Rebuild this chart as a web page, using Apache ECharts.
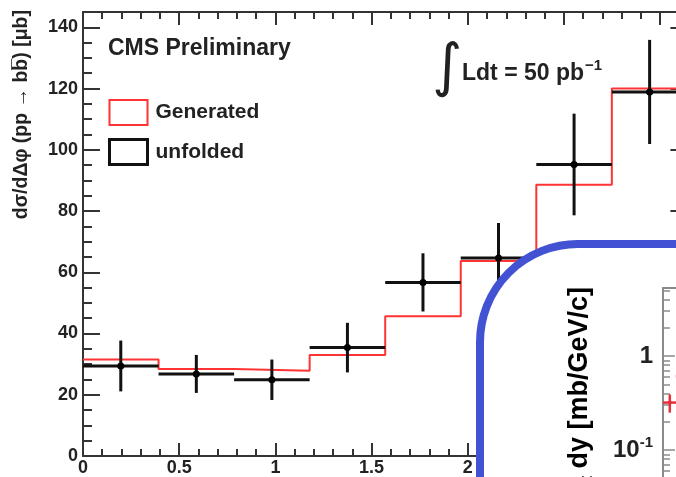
<!DOCTYPE html>
<html>
<head>
<meta charset="utf-8">
<script src="https://cdn.jsdelivr.net/npm/echarts@6/dist/echarts.min.js"></script>
<style>
  html, body { margin: 0; padding: 0; background: #fff; }
  #chart { width: 676px; height: 477px; }
</style>
</head>
<body>
<div id="chart"></div>
<script>
// Δφ binning: 8 equal bins from 0 to π
const binEdges = [0, 0.3927, 0.7854, 1.1781, 1.5708, 1.9635, 2.3562, 2.7489, 3.1416];
// generator-level cross section per bin [μb]
const generated = [31.5, 28.4, 27.8, 33.0, 45.6, 63.7, 88.6, 120.0];
// unfolded measurement and its uncertainty [μb]
const unfolded = [29.4, 26.8, 24.9, 35.4, 56.7, 64.7, 95.2, 118.9];
const unfoldedErr = [8.3, 6.2, 6.6, 8.1, 9.5, 11.4, 16.6, 17.0];

// axis ticks
const xMajorTicks = [0, 0.5, 1, 1.5, 2, 2.5, 3];
const yMajorTicks = [0, 20, 40, 60, 80, 100, 120, 140];
const xMinorTicks = [];
for (let k = 1; k <= 31; k++) if (k % 5 !== 0) xMinorTicks.push(k / 10);
const yMinorTicks = [];
for (let v = 5; v < 145; v += 5) if (v % 20 !== 0) yMinorTicks.push(v);

// inset: pT spectrum points (pT [GeV/c], half bin width, yield [mb/GeV/c], error)
const insetPt = [0.17, 0.49];
const insetHalfWidth = [0.17, 0.17];
const insetYield = [0.32, 0.61];
const insetYieldErr = [0.07, 0.1];
// inset y axis in decades (log10 of mb/GeV/c)
const insetDecadeTicks = [-3, -2, -1, 0];
const insetDecadeLabels = [-1, 0];
const insetMax = Math.log10(5.3);
const insetMinorTicks = [];
for (let n = -3; n <= 0; n++) {
  for (let k = 2; k <= 9; k++) {
    const v = Math.log10(k * Math.pow(10, n));
    if (v < insetMax) insetMinorTicks.push(v);
  }
}

const FONT = "'Liberation Sans', Arial, Helvetica, sans-serif";
const AXIS = '#333';
const INSET_AXIS = '#8a8a8a';
const RED = '#ff3333';
const BLUE = '#4351d3';

const genSteps = binEdges.map((e, i) => [e, generated[Math.min(i, generated.length - 1)]]);
const unfoldedData = unfolded.map((v, i) => [
  (binEdges[i] + binEdges[i + 1]) / 2, v, binEdges[i], binEdges[i + 1], unfoldedErr[i]
]);
const insetData = insetPt.map((p, i) => [p, insetHalfWidth[i], insetYield[i], insetYieldErr[i]]);

function tickAxis(gridIndex, position, min, max, values, length, showLine, extra) {
  return Object.assign({
    type: 'value', gridIndex, position, min, max,
    axisLine: { show: showLine, onZero: false, lineStyle: { color: AXIS, width: 2 } },
    axisTick: { show: true, inside: true, length, customValues: values, lineStyle: { color: AXIS, width: 2 } },
    axisLabel: { show: false },
    splitLine: { show: false },
    minorTick: { show: false }
  }, extra || {});
}

const labelStyle = { fontSize: 18, fontWeight: 'bold', color: '#222', fontFamily: FONT };

const xAxes = [
  tickAxis(0, 'bottom', 0, Math.PI, xMajorTicks, 13, true, {
    axisLabel: Object.assign({ show: true, customValues: xMajorTicks, margin: 3, formatter: v => String(v) }, labelStyle)
  }),
  tickAxis(0, 'bottom', 0, Math.PI, xMinorTicks, 7, false),
  tickAxis(0, 'top', 0, Math.PI, xMajorTicks, 13, true),
  tickAxis(0, 'top', 0, Math.PI, xMinorTicks, 7, false),
  // inset axes
  { type: 'value', gridIndex: 1, position: 'bottom', min: 0, max: 10, show: false,
    axisLine: { onZero: false } },
  { type: 'value', gridIndex: 1, position: 'top', min: 0, max: 10, z: 120,
    axisLine: { show: true, onZero: false, lineStyle: { color: INSET_AXIS, width: 2 } },
    axisTick: { show: false }, axisLabel: { show: false }, splitLine: { show: false } }
];

const yAxes = [
  tickAxis(0, 'left', 0, 145, yMajorTicks, 17, true, {
    axisLabel: Object.assign({ show: true, customValues: yMajorTicks, margin: 5 }, labelStyle)
  }),
  tickAxis(0, 'left', 0, 145, yMinorTicks, 9, false),
  tickAxis(0, 'right', 0, 145, yMajorTicks, 17, true),
  tickAxis(0, 'right', 0, 145, yMinorTicks, 9, false),
  // inset y axis, decades
  { type: 'value', gridIndex: 1, position: 'left', min: -3, max: insetMax, z: 120,
    axisLine: { show: true, onZero: false, lineStyle: { color: INSET_AXIS, width: 2 } },
    axisTick: { show: true, inside: true, length: 12, customValues: insetDecadeTicks, lineStyle: { color: INSET_AXIS, width: 1.5 } },
    axisLabel: {
      show: true, customValues: insetDecadeLabels, margin: 10,
      fontSize: 24, fontWeight: 'bold', color: '#222', fontFamily: FONT,
      formatter: v => (v === 0 ? '{b|1}' : '{b|10}{s|' + v + '}'),
      rich: {
        b: { fontSize: 24, fontWeight: 'bold', fontFamily: FONT, color: '#222' },
        s: { fontSize: 15, fontWeight: 'bold', fontFamily: FONT, color: '#222', padding: [0, 0, 14, 0] }
      }
    },
    splitLine: { show: false } },
  { type: 'value', gridIndex: 1, position: 'left', min: -3, max: insetMax, z: 120,
    axisLine: { show: false, onZero: false },
    axisTick: { show: true, inside: true, length: 7, customValues: insetMinorTicks, lineStyle: { color: INSET_AXIS, width: 1.5 } },
    axisLabel: { show: false }, splitLine: { show: false } }
];

function renderUnfolded(params, api) {
  const x = api.value(0), y = api.value(1), lo = api.value(2), hi = api.value(3), e = api.value(4);
  const c = api.coord([x, y]);
  const l = api.coord([lo, y]), r = api.coord([hi, y]);
  const t = api.coord([x, y + e]), b = api.coord([x, y - e]);
  const st = { stroke: '#111', lineWidth: 3 };
  return { type: 'group', children: [
    { type: 'line', shape: { x1: l[0], y1: l[1], x2: r[0], y2: r[1] }, style: st },
    { type: 'line', shape: { x1: t[0], y1: t[1], x2: b[0], y2: b[1] }, style: st },
    { type: 'circle', shape: { cx: c[0], cy: c[1], r: 3.5 }, style: { fill: '#000' } }
  ] };
}

function renderInset(params, api) {
  const x = api.value(0), hw = api.value(1), v = api.value(2), e = api.value(3);
  const ly = Math.log10(v);
  const c = api.coord([x, ly]);
  const l = api.coord([x - hw, ly]), r = api.coord([x + hw, ly]);
  const t = api.coord([x, Math.log10(v + e)]), b = api.coord([x, Math.log10(v - e)]);
  const st = { stroke: '#e8303a', lineWidth: 2.5 };
  return { type: 'group', children: [
    { type: 'line', shape: { x1: l[0], y1: l[1], x2: r[0], y2: r[1] }, style: st },
    { type: 'line', shape: { x1: t[0], y1: t[1], x2: b[0], y2: b[1] }, style: st },
    { type: 'circle', shape: { cx: c[0], cy: c[1], r: 2 }, style: { fill: '#e8303a' } }
  ] };
}

const chart = echarts.init(document.getElementById('chart'), null, { renderer: 'canvas' });
chart.setOption({
  animation: false,
  backgroundColor: '#fff',
  grid: [
    { left: 83, top: 12, width: 604.4, height: 444, containLabel: false, outerBoundsMode: 'none' },
    { left: 663, top: 288, width: 400, height: 350, containLabel: false, outerBoundsMode: 'none' }
  ],
  xAxis: xAxes,
  yAxis: yAxes,
  legend: {
    left: 108, top: 99, orient: 'vertical', padding: 0,
    itemWidth: 38, itemHeight: 25, itemGap: 12, selectedMode: false,
    textStyle: { fontSize: 21, fontWeight: 'bold', color: '#222', fontFamily: FONT, padding: [0, 0, 0, 3] },
    data: [
      { name: 'Generated', icon: 'rect', itemStyle: { color: '#fff', borderColor: RED, borderWidth: 2 } },
      { name: 'unfolded', icon: 'rect', itemStyle: { color: '#fff', borderColor: '#111', borderWidth: 3 } }
    ]
  },
  graphic: [
    { type: 'text', x: 22, y: 10, rotation: Math.PI / 2,
      style: { text: 'dσ/dΔφ (pp → bb\u0305) [μb]', font: 'bold 19.5px ' + FONT, fill: '#222',
        align: 'right', textAlign: 'right', verticalAlign: 'middle', textVerticalAlign: 'middle' } },
    { type: 'text', x: 108, y: 49,
      style: { text: 'CMS Preliminary', font: 'bold 23px ' + FONT, fill: '#222',
        align: 'left', textAlign: 'left', verticalAlign: 'middle', textVerticalAlign: 'middle' } },
    { type: 'text', x: 447, y: 70,
      style: { text: '∫', font: '58px DejaVu Sans', fill: '#222',
        align: 'center', textAlign: 'center', verticalAlign: 'middle', textVerticalAlign: 'middle' } },
    { type: 'text', x: 462, y: 74,
      style: { text: '{m|Ldt = 50 pb}{s|−1}', fill: '#222',
        align: 'left', textAlign: 'left', verticalAlign: 'middle', textVerticalAlign: 'middle',
        rich: {
          m: { fontSize: 23, fontWeight: 'bold', fontFamily: FONT, fill: '#222', color: '#222' },
          s: { fontSize: 15, fontWeight: 'bold', fontFamily: FONT, fill: '#222', color: '#222', padding: [0, 0, 16, 1] }
        } } },
    // inset frame
    { type: 'rect', z: 100,
      shape: { x: 480, y: 244, width: 500, height: 400, r: 98 },
      style: { fill: '#fff', stroke: BLUE, lineWidth: 8 } },
    { type: 'text', z: 120, x: 580, y: 287, rotation: Math.PI / 2,
      style: { text: '{m|d²σ/dp}{t|t}{m| dy [mb/GeV/c]}',
        align: 'right', textAlign: 'right', verticalAlign: 'middle', textVerticalAlign: 'middle',
        rich: {
          m: { fontSize: 27, fontWeight: 'bold', fontFamily: FONT, color: '#222' },
          t: { fontSize: 18, fontWeight: 'bold', fontFamily: FONT, color: '#222', padding: [14, 0, 0, 0] }
        } } }
  ],
  series: [
    { type: 'line', name: 'Generated', xAxisIndex: 0, yAxisIndex: 0, step: 'end',
      data: genSteps, symbol: 'none', z: 2,
      lineStyle: { color: RED, width: 2 }, itemStyle: { color: RED } },
    { type: 'custom', name: 'unfolded', xAxisIndex: 0, yAxisIndex: 0, z: 3,
      data: unfoldedData, renderItem: renderUnfolded, itemStyle: { color: '#111' },
      encode: { x: 0, y: 1 } },
    { type: 'custom', name: 'inset', xAxisIndex: 4, yAxisIndex: 4, z: 130,
      data: insetData, renderItem: renderInset, encode: { x: 0, y: 2 } }
  ]
});
</script>
</body>
</html>
